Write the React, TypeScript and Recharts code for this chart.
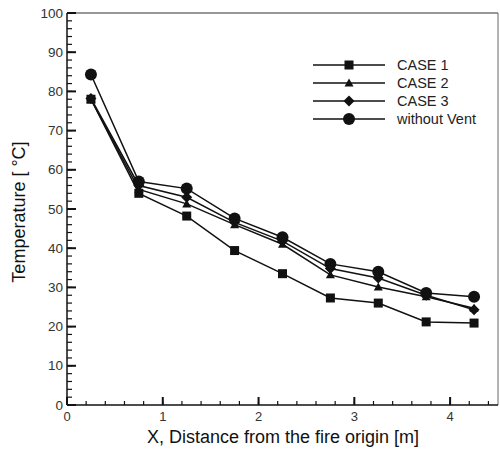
import React from "react";
import { LineChart, Line, XAxis, YAxis, ReferenceLine } from "recharts";

const distance = [0.25, 0.75, 1.25, 1.75, 2.25, 2.75, 3.25, 3.75, 4.25];
const case1 = [78, 54, 48.2, 39.4, 33.5, 27.3, 26, 21.2, 20.9];
const case2 = [78, 55, 51.3, 46, 41, 33.2, 30.1, 27.6, 24.7];
const case3 = [78.2, 56, 53, 46.6, 41.8, 34.8, 32.4, 28, 24.3];
const withoutVent = [84.3, 57, 55.2, 47.6, 42.8, 36, 34, 28.6, 27.6];

const xDomain = [0, 4.5];
const yDomain = [0, 100];
const xTicks = [0, 0.2, 0.4, 0.6, 0.8, 1, 1.2, 1.4, 1.6, 1.8, 2, 2.2, 2.4, 2.6, 2.8, 3, 3.2, 3.4, 3.6, 3.8, 4, 4.2, 4.4];
const yTicks = [
  0, 2, 4, 6, 8, 10, 12, 14, 16, 18, 20, 22, 24, 26, 28, 30, 32, 34, 36, 38, 40, 42, 44, 46, 48, 50,
  52, 54, 56, 58, 60, 62, 64, 66, 68, 70, 72, 74, 76, 78, 80, 82, 84, 86, 88, 90, 92, 94, 96, 98, 100,
];

const xTitle = "X, Distance from the fire origin [m]";
const yTitle = "Temperature [ °C]";

const series = [
  { key: "case1", name: "CASE 1", shape: "square" },
  { key: "case2", name: "CASE 2", shape: "triangle" },
  { key: "case3", name: "CASE 3", shape: "diamond" },
  { key: "noVent", name: "without Vent", shape: "circle" },
];

const data = distance.map((x, i) => ({
  x,
  case1: case1[i],
  case2: case2[i],
  case3: case3[i],
  noVent: withoutVent[i],
}));

const font = "'Liberation Sans', Arial, sans-serif";
const ink = "#111";

function Marker({ shape, cx, cy }: { shape: string; cx: number; cy: number }) {
  if (shape === "square") return <rect x={cx - 4.5} y={cy - 4.5} width={9} height={9} fill={ink} />;
  if (shape === "triangle")
    return <polygon points={`${cx},${cy - 4.5} ${cx + 4.5},${cy + 3.5} ${cx - 4.5},${cy + 3.5}`} fill={ink} />;
  if (shape === "diamond")
    return <polygon points={`${cx},${cy - 5.5} ${cx + 5.5},${cy} ${cx},${cy + 5.5} ${cx - 5.5},${cy}`} fill={ink} />;
  return <circle cx={cx} cy={cy} r={6} fill={ink} />;
}

const isMajor = (v: number) => Math.abs(v - Math.round(v)) < 1e-9;

// tick lines come from recharts (negative size = inward); majors get a longer mark here
function XTick(props: any) {
  const { x, y, payload } = props;
  const v = payload.value;
  if (!isMajor(v)) return <g />;
  return (
    <g>
      <rect x={x - 1} y={y - 8} width={2} height={8} fill={ink} />
      <text x={x} y={y + 16} textAnchor="middle" fontSize={13} fontFamily={font} fill="#333">
        {v}
      </text>
    </g>
  );
}

function YTick(props: any) {
  const { x, y, payload } = props;
  const v = payload.value;
  if (v % 10 !== 0) return <g />;
  return (
    <g>
      <rect x={x} y={y - 1} width={9} height={2} fill={ink} />
      <text x={x - 4} y={y + 4.5} textAnchor="end" fontSize={13.5} fontFamily={font} fill="#333">
        {v}
      </text>
    </g>
  );
}

function LegendBox() {
  return (
    <svg width={190} height={76} style={{ position: "absolute", left: 310, top: 56 }}>
      {series.map((s, i) => {
        const cy = 9 + i * 18;
        return (
          <g key={s.key}>
            <line x1={3} x2={75} y1={cy} y2={cy} stroke={ink} strokeWidth={1.5} />
            <Marker shape={s.shape} cx={39} cy={cy} />
            <text x={87} y={cy + 5} fontSize={14.5} fontFamily={font} fill="#222">
              {s.name}
            </text>
          </g>
        );
      })}
    </svg>
  );
}

const titleStyle: React.CSSProperties = {
  position: "absolute",
  fontFamily: font,
  fontSize: 18,
  color: "#111",
  whiteSpace: "nowrap",
  lineHeight: 1,
};

export default function App() {
  return (
    <div style={{ position: "absolute", left: 0, top: 0, width: 500, height: 456, background: "#fff" }}>
      <LineChart width={500} height={456} data={data} margin={{ top: 13, right: 2, bottom: 0, left: 0 }}>
        <XAxis
          dataKey="x"
          type="number"
          domain={xDomain}
          ticks={xTicks}
          interval={0}
          tick={<XTick />}
          tickSize={-4}
          tickMargin={4}
          tickLine={{ stroke: ink, strokeWidth: 1.2 }}
          axisLine={{ stroke: ink, strokeWidth: 1.5 }}
          height={51}
        />
        <YAxis
          type="number"
          domain={yDomain}
          ticks={yTicks}
          interval={0}
          tick={<YTick />}
          tickSize={-5}
          tickMargin={5}
          tickLine={{ stroke: ink, strokeWidth: 1.2 }}
          axisLine={{ stroke: ink, strokeWidth: 1.5 }}
          width={67}
        />
        {/* frame: top and right edges at the domain ends */}
        <ReferenceLine y={yDomain[1]} stroke="#333" strokeWidth={1.2} ifOverflow="visible" />
        <ReferenceLine x={xDomain[1]} stroke="#666" strokeWidth={1} ifOverflow="visible" />
        {series.map((s) => (
          <Line
            key={s.key}
            dataKey={s.key}
            name={s.name}
            type="linear"
            stroke={ink}
            strokeWidth={1.5}
            isAnimationActive={false}
            dot={(p: any) => <Marker key={`${s.key}-${p.index}`} shape={s.shape} cx={p.cx} cy={p.cy} />}
            activeDot={false}
          />
        ))}
      </LineChart>
      <LegendBox />
      <div style={{ ...titleStyle, left: 283, top: 437, transform: "translate(-50%, -50%)" }}>{xTitle}</div>
      <div style={{ ...titleStyle, left: 19, top: 212, transform: "translate(-50%, -50%) rotate(-90deg)" }}>
        {yTitle}
      </div>
    </div>
  );
}
